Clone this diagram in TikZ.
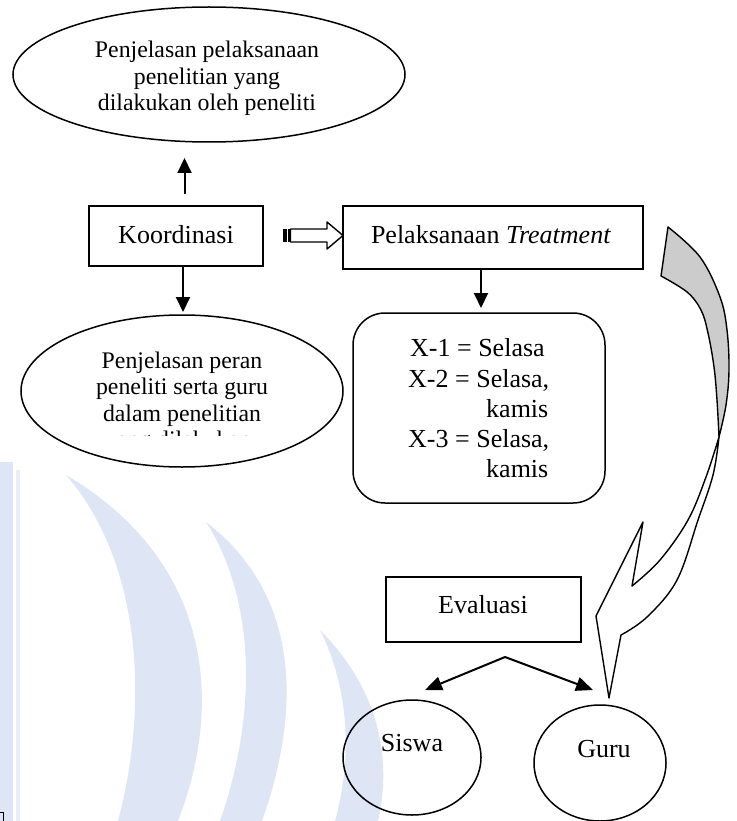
\documentclass[tikz,border=0pt]{standalone}
\usepackage{fontspec}
\setmainfont{Liberation Serif}
\usetikzlibrary{shapes.geometric,arrows.meta}
\definecolor{wm}{RGB}{222,229,244}
\definecolor{shade}{RGB}{204,204,204}
\tikzset{
  boxn/.style={draw, line width=1.5pt, inner sep=0pt},
  elln/.style={draw, ellipse, line width=1.5pt, inner sep=0pt},
  bigtxt/.style={font=\fontsize{26}{30.25}\selectfont, inner sep=0pt},
  smalltxt/.style={font=\fontsize{23.8}{26.5}\selectfont, align=center, inner sep=0pt},
  arr/.style={line width=2pt, -{Triangle[length=15pt,width=14pt]}},
  shapeln/.style={line width=1.4pt, line join=round},
}
\begin{document}
\begin{tikzpicture}[x=1pt,y=-1pt]
\useasboundingbox (0,0) rectangle (736,821);

% faint watermark
\begin{scope}
\fill[wm] (0,462) rectangle (13,821);
\fill[wm!70!white] (16,470) rectangle (20,821);
\fill[wm] (66,475) .. controls (140,560) and (150,700) .. (118,821)
  -- (178,821) .. controls (225,700) and (210,560) .. (66,475) -- cycle;
\fill[wm] (206,522) .. controls (250,590) and (262,700) .. (220,821)
  -- (262,821) .. controls (305,700) and (295,590) .. (206,522) -- cycle;
\fill[wm] (320,630) .. controls (350,690) and (352,760) .. (335,821)
  -- (378,821) .. controls (392,760) and (380,690) .. (320,630) -- cycle;
\end{scope}

% top ellipse
\node[elln, minimum width=392pt, minimum height=135pt] (e1) at (209,74.5) {};
\node[smalltxt] (e1t) at (207,78.5) {Penjelasan pelaksanaan\\penelitian yang\\dilakukan oleh peneliti};

% Koordinasi
\node[boxn, minimum width=174pt, minimum height=60pt] (k) at (176,236) {};
\node[bigtxt, anchor=base] (kt) at (176,243) {Koordinasi};

% Pelaksanaan
\node[boxn, minimum width=300pt, minimum height=63pt] (p) at (493,237.5) {};
\node[bigtxt, anchor=base] (pt) at (491,243) {Pelaksanaan \textit{Treatment}};

% lower-left ellipse
\node[elln, minimum width=322pt, minimum height=152pt] (e2) at (182,391) {};
\node[smalltxt] (e2t) at (182,389) {Penjelasan peran\\peneliti serta guru\\dalam penelitian};
\begin{scope}
\clip (0,0) rectangle (736,435);
\node[smalltxt, anchor=base] (e2c) at (178,447.5) {yang dilakukan};
\end{scope}

% rounded schedule box
\node[boxn, rounded corners=32pt, minimum width=252pt, minimum height=190pt] (r) at (479,408) {};
\node[bigtxt, align=left, anchor=west] (rt) at (408,408.6)
  {\hspace*{2pt}X-1 = Selasa\\X-2 = Selasa,\\\hspace*{78pt}kamis\\X-3 = Selasa,\\\hspace*{78pt}kamis};

% Evaluasi
\node[boxn, minimum width=195pt, minimum height=65pt] (ev) at (483.5,609.5) {};
\node[bigtxt, anchor=base] (evt) at (483,613) {Evaluasi};

% Siswa, Guru
\node[elln, minimum width=138pt, minimum height=115pt] (s) at (412,757.5) {};
\node[bigtxt, anchor=base] (st) at (412,751) {Siswa};
\node[elln, minimum width=132pt, minimum height=116pt] (g) at (600,763) {};
\node[bigtxt, anchor=base] (gt) at (604,757) {Guru};

% arrows
\coordinate (u1) at (184.5,194);
\coordinate (u2) at (184.5,158);
\draw[arr] (u1) -- (u2);
\coordinate (d1) at (183,266);
\coordinate (d2) at (183,312);
\draw[arr] (d1) -- (d2);
\coordinate (d3) at (481,269);
\coordinate (d4) at (481,308);
\draw[arr] (d3) -- (d4);
\coordinate (apex) at (505,657);
\coordinate (ts) at (425,690);
\coordinate (tg) at (593,690);
\draw[line width=2pt, -{Triangle[length=17pt,width=14pt]}, line join=round] (apex) -- (ts);
\draw[line width=2pt, -{Triangle[length=17pt,width=14pt]}] (apex) -- (tg);

% striped block arrow
\fill (283,229) rectangle (286.5,242);
\fill (287.5,229) rectangle (289.5,242);
\draw[shapeln, fill=white] (290.5,229) -- (327,229) -- (327,222) -- (343,235.5)
  -- (327,249) -- (327,242) -- (290.5,242) -- cycle;

% curved arrow
\filldraw[shapeln, fill=shade]
  plot[smooth, tension=0.6] coordinates {(668,227) (700,257) (720,297) (727,330) (729,370) (726,405) (719,437)}
  -- plot[smooth, tension=0.6] coordinates {(719,437) (717,400) (714,367) (708,333) (701,310) (687,292) (661,276)}
  -- cycle;
\filldraw[shapeln, fill=white]
  plot[smooth, tension=0.6] coordinates {(719,437) (706,477) (688,520) (660,560) (632,586)}
  -- (643,522) -- (596,616) -- (609,698) -- (621,635)
  -- plot[smooth, tension=0.6] coordinates {(621,635) (647,617) (677,580) (698,520) (713,475) (719,437)}
  -- cycle;

% cut-off fragment at bottom left
\draw[line width=1pt] (0,812.5) -- (3.5,812.5) -- (3.5,821);
\end{tikzpicture}
\end{document}
